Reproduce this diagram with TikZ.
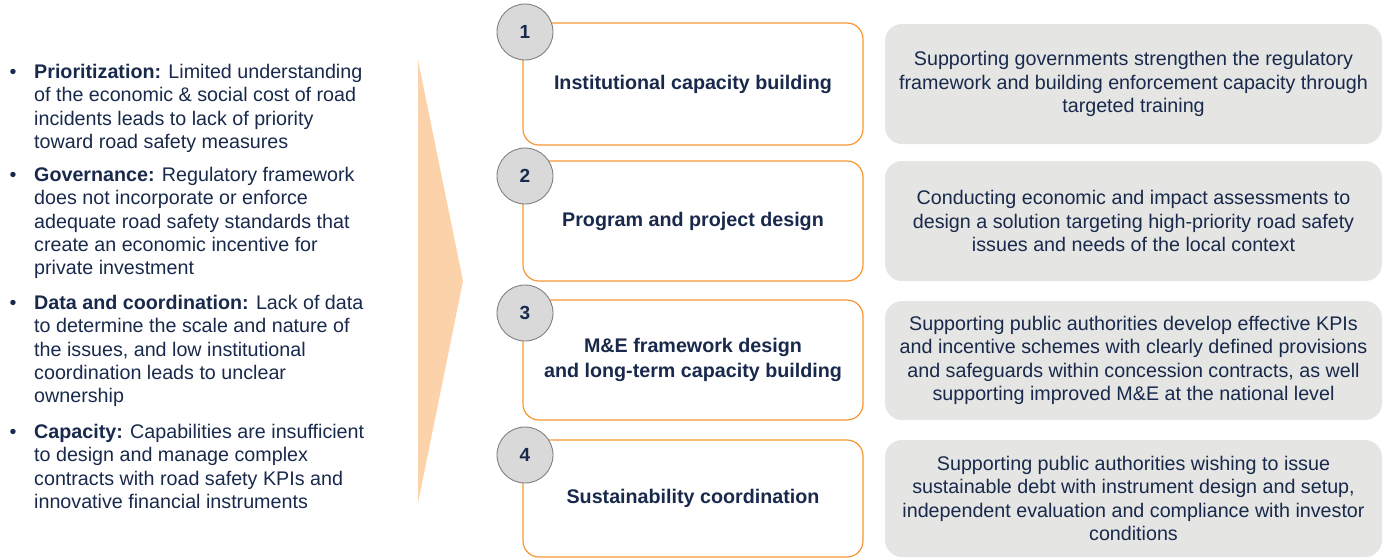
\documentclass[tikz,border=0pt]{standalone}
\usepackage{fontspec}
\setmainfont{Liberation Sans}
\definecolor{navy}{RGB}{24,41,75}
\definecolor{orangeline}{RGB}{247,150,52}
\definecolor{chev}{RGB}{251,210,170}
\definecolor{greybox}{RGB}{229,229,228}
\definecolor{circfill}{RGB}{217,217,217}
\definecolor{circline}{RGB}{128,128,128}
\begin{document}
\begin{tikzpicture}[x=1pt,y=-1pt,
  txt/.style={font=\fontsize{19.7}{23.4}\selectfont, text=navy, inner sep=0pt},
  lefttext/.style={txt, align=left, anchor=north west},
  bul/.style={txt, anchor=base},
  obox/.style={draw=orangeline, line width=1.2pt, rounded corners=16pt, fill=white,
    minimum width=340pt, txt, align=center, font=\fontsize{19.7}{24.5}\selectfont\bfseries},
  gbox/.style={fill=greybox, rounded corners=17pt, minimum width=497pt, txt, align=center},
  numcirc/.style={circle, draw=circline, line width=0.9pt, fill=circfill, minimum size=56pt,
    inner sep=0pt, font=\fontsize{19}{22}\selectfont\bfseries, text=navy}
]
\useasboundingbox (0,0) rectangle (1384,558);

% chevron
\fill[chev] (418,60) -- (463,281) -- (418,503) -- cycle;

% left bullets
\node[bul] (d1) at (13,78) {•};
\node[lefttext] (p1) at (34,63.9) {\textbf{Prioritization:} Limited understanding\\of the economic \& social cost of road\\incidents leads to lack of priority\\toward road safety measures};
\node[bul] (d2) at (13,181) {•};
\node[lefttext] (p2) at (34,166.9) {\textbf{Governance:} Regulatory framework\\does not incorporate or enforce\\adequate road safety standards that\\create an economic incentive for\\private investment};
\node[bul] (d3) at (13,309) {•};
\node[lefttext] (p3) at (34,294.9) {\textbf{Data and coordination:} Lack of data\\to determine the scale and nature of\\the issues, and low institutional\\coordination leads to unclear\\ownership};
\node[bul] (d4) at (13,438) {•};
\node[lefttext] (p4) at (34,423.9) {\textbf{Capacity:} Capabilities are insufficient\\to design and manage complex\\contracts with road safety KPIs and\\innovative financial instruments};

% orange boxes
\node[obox, minimum height=122pt] (b1) at (693,84) {Institutional capacity building};
\node[obox, minimum height=120pt] (b2) at (693,221) {Program and project design};
\node[obox, minimum height=120pt] (b3) at (693,360) {M\&E framework design\\and long-term capacity building};
\node[obox, minimum height=117pt] (b4) at (693,498.5) {Sustainability coordination};

% number circles
\node[numcirc] (c1) at (525,32) {1};
\node[numcirc] (c2) at (525,176) {2};
\node[numcirc] (c3) at (525,313) {3};
\node[numcirc] (c4) at (525,455) {4};

% grey boxes
\node[gbox, minimum height=120pt] (g1) at (1133.5,84) {Supporting governments strengthen the regulatory\\framework and building enforcement capacity through\\targeted training};
\node[gbox, minimum height=120pt] (g2) at (1133.5,221) {Conducting economic and impact assessments to\\design a solution targeting high-priority road safety\\issues and needs of the local context};
\node[gbox, minimum height=119pt] (g3) at (1133.5,360.5) {Supporting public authorities develop effective KPIs\\and incentive schemes with clearly defined provisions\\and safeguards within concession contracts, as well\\supporting improved M\&E at the national level};
\node[gbox, minimum height=117pt] (g4) at (1133.5,498.5) {Supporting public authorities wishing to issue\\sustainable debt with instrument design and setup,\\independent evaluation and compliance with investor\\conditions};
\end{tikzpicture}
\end{document}
